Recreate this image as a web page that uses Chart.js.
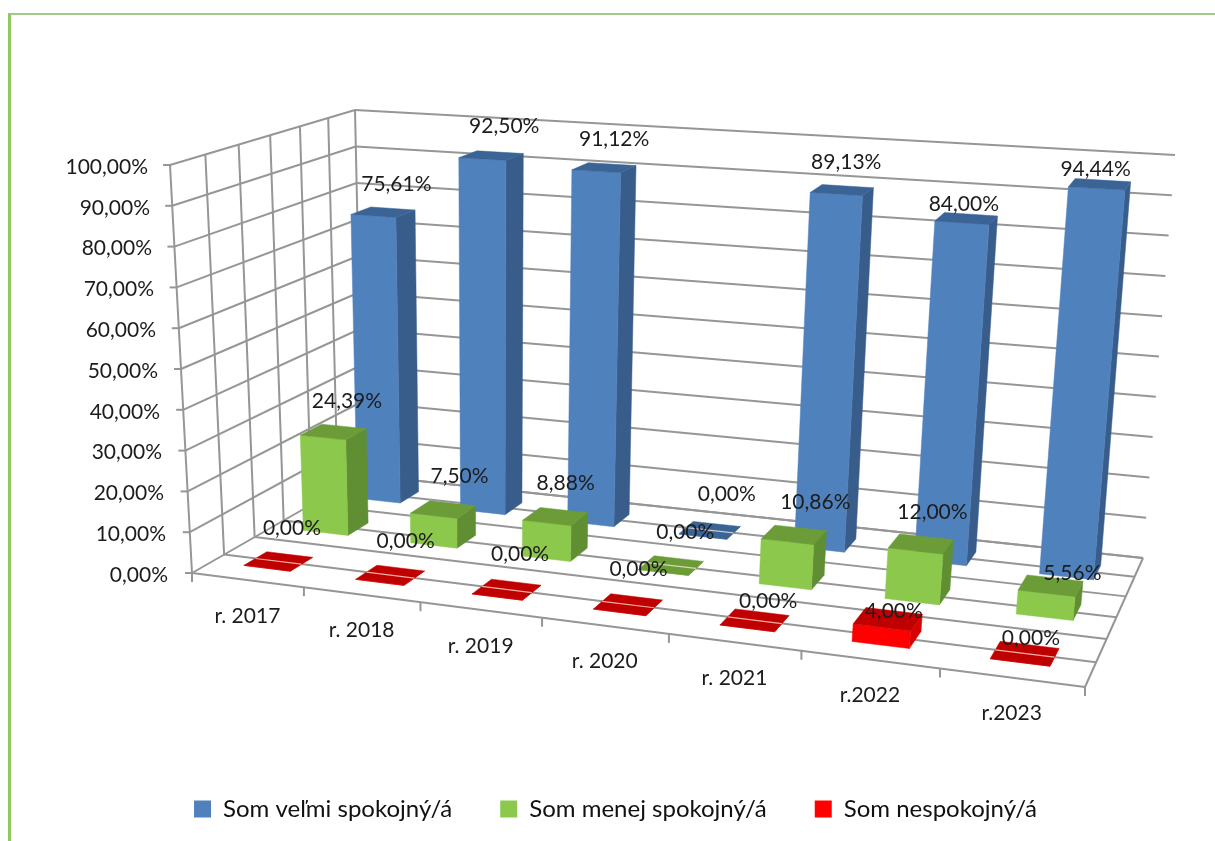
<!DOCTYPE html>
<html>
<head>
<meta charset="utf-8">
<title>Spokojnosť</title>
<script src="https://cdn.jsdelivr.net/npm/chart.js@4/dist/chart.umd.js"></script>
<style>
  html, body { margin: 0; padding: 0; background: #fff; overflow: hidden; }
  #wrap { position: relative; width: 1215px; height: 841px; overflow: hidden; }
  #frame { position: absolute; left: 8px; top: 13px; right: 0; bottom: 0;
           border-left: 3px solid #8fca5e; border-top: 2px solid #a3c98a; pointer-events: none; }
</style>
</head>
<body>
<div id="wrap">
  <canvas id="chart" width="1215" height="841"></canvas>
  <div id="frame"></div>
</div>
<script>
// Data
const categories = ['r. 2017', 'r. 2018', 'r. 2019', 'r. 2020', 'r. 2021', 'r.2022', 'r.2023'];
const seriesNames = ['Som veľmi spokojný/á', 'Som menej spokojný/á', 'Som nespokojný/á'];
const veryHappy = [75.61, 92.50, 91.12, 0, 89.13, 84.00, 94.44];
const lessHappy = [24.39, 7.50, 8.88, 0, 10.86, 12.00, 5.56];
const unhappy = [0, 0, 0, 0, 0, 4.00, 0];

// Colours per series: front, side, top
const faceColors = [
  ['#4f81bd', '#385d8a', '#3a6496'],
  ['#8cc84b', '#5f8f32', '#6b9c38'],
  ['#ff0000', '#d80000', '#c00000']
];
const gridColor = '#969696';
const textColor = '#1c1c1c';
const fontName = 'Lato, Carlito, sans-serif';

// Perspective box of the plot (front-left, front-right, back-right, back-left)
const floorQuad = [[192, 573], [1085, 687], [1143, 558], [363, 475]];
const ceilQuad = [[170, 165], [1132, 228], [1175, 155], [355, 110]];

const barWidthFrac = 0.42;
const barDepthFrac = 0.125;
const depthCells = 6;

// Label nudges from the top of each bar, [dx, dy] per series and category
const labelShift = [
  [[23, -32], [22, -33], [18, -32], [24, -42], [10, -32], [2, -19], [-1, -19]],
  [[24, -36], [26, -40], [19, -40], [22, -40], [28, -39], [17, -39], [26, -20]],
  [[25, -40], [26, -41], [23, -43], [19, -43], [21, -27], [12, -16], [11, -24]]
];

function makeHomography(q) {
  const [x0, y0] = q[0], [x1, y1] = q[1], [x2, y2] = q[2], [x3, y3] = q[3];
  const dx1 = x1 - x2, dx2 = x3 - x2, sx = x0 - x1 + x2 - x3;
  const dy1 = y1 - y2, dy2 = y3 - y2, sy = y0 - y1 + y2 - y3;
  const den = dx1 * dy2 - dx2 * dy1;
  const g = (sx * dy2 - dx2 * sy) / den;
  const h = (dx1 * sy - sx * dy1) / den;
  const a = x1 - x0 + g * x1, b = x3 - x0 + h * x3;
  const d = y1 - y0 + g * y1, e = y3 - y0 + h * y3;
  return (u, v) => {
    const t = g * u + h * v + 1;
    return [(a * u + b * v + x0) / t, (d * u + e * v + y0) / t];
  };
}
const floorMap = makeHomography(floorQuad);
const ceilMap = makeHomography(ceilQuad);

// u along categories, v into the depth, w up the value axis, all 0..1
function project(u, v, w) {
  const p = floorMap(u, v), q = ceilMap(u, v);
  return [p[0] + (q[0] - p[0]) * w, p[1] + (q[1] - p[1]) * w];
}

function formatPct(val) {
  return val.toFixed(2).replace('.', ',') + '%';
}

function line(ctx, a, b) {
  ctx.beginPath();
  ctx.moveTo(a[0], a[1]);
  ctx.lineTo(b[0], b[1]);
  ctx.stroke();
}

function face(ctx, pts, color) {
  ctx.fillStyle = color;
  ctx.strokeStyle = color;
  ctx.lineWidth = 0.5;
  ctx.beginPath();
  pts.forEach((p, i) => (i ? ctx.lineTo(p[0], p[1]) : ctx.moveTo(p[0], p[1])));
  ctx.closePath();
  ctx.fill();
  ctx.stroke();
}

function drawBox(chart) {
  const ctx = chart.ctx, y = chart.scales.y;
  ctx.strokeStyle = gridColor;
  ctx.lineWidth = 2;
  y.ticks.forEach(t => {
    const w = (y.bottom - y.getPixelForValue(t.value)) / y.height;
    line(ctx, project(0, 1, w), project(1, 1, w)); // back wall
    line(ctx, project(0, 0, w), project(0, 1, w)); // side wall
    const a = project(0, 0, w);
    line(ctx, a, [a[0] - 7, a[1]]);
  });
  for (let k = 0; k <= depthCells; k++) {
    const v = k / depthCells;
    line(ctx, project(0, v, 0), project(0, v, 1));
    line(ctx, project(0, v, 0), project(1, v, 0));
  }
  line(ctx, project(1, 0, 0), project(1, 1, 0));
  // ticks under the front edge
  for (let k = 0; k <= categories.length; k++) {
    const a = project(k / categories.length, 0, 0);
    line(ctx, a, [a[0], a[1] + 9]);
  }
}

function drawBars(chart) {
  const ctx = chart.ctx, xs = chart.scales.x, ys = chart.scales.y;
  const step = xs.getPixelForValue(1) - xs.getPixelForValue(0);
  const halfU = (barWidthFrac * step / xs.width) / 2;
  // back row first so nearer bars cover it
  chart.data.datasets.forEach((ds, s) => {
    const vMid = (5 - 2 * s) / depthCells;
    const v0 = vMid - barDepthFrac / 2, v1 = vMid + barDepthFrac / 2;
    const cols = faceColors[s];
    ds.data.forEach((val, k) => {
      const uMid = (xs.getPixelForValue(k) - xs.left) / xs.width;
      const u0 = uMid - halfU, u1 = uMid + halfU;
      const w = (ys.bottom - ys.getPixelForValue(val)) / ys.height;
      face(ctx, [project(u1, v0, 0), project(u1, v1, 0), project(u1, v1, w), project(u1, v0, w)], cols[1]);
      face(ctx, [project(u0, v0, 0), project(u1, v0, 0), project(u1, v0, w), project(u0, v0, w)], cols[0]);
      face(ctx, [project(u0, v0, w), project(u1, v0, w), project(u1, v1, w), project(u0, v1, w)], cols[2]);
      if (val === 0) {
        // the floor line still shows through a flat tile
        ctx.strokeStyle = 'rgba(255,235,215,0.75)';
        ctx.lineWidth = 1.2;
        line(ctx, project(u0, vMid, 0), project(u1, vMid, 0));
      }
    });
  });
}

function drawTexts(chart) {
  const ctx = chart.ctx, xs = chart.scales.x, ys = chart.scales.y;
  ctx.fillStyle = textColor;
  ctx.textBaseline = 'middle';
  ctx.font = '21px ' + fontName;
  // value axis
  ctx.textAlign = 'right';
  ys.ticks.forEach(t => {
    const w = (ys.bottom - ys.getPixelForValue(t.value)) / ys.height;
    const a = project(0, 0, w);
    ctx.fillText(formatPct(t.value), a[0] - 24 + 2 * w, a[1] + 2);
  });
  // categories
  ctx.textAlign = 'center';
  categories.forEach((name, k) => {
    const u = (xs.getPixelForValue(k) - xs.left) / xs.width;
    const a = project(u, 0, 0);
    ctx.fillText(name, a[0], a[1] + 36);
  });
  // values
  chart.data.datasets.forEach((ds, s) => {
    const vMid = (5 - 2 * s) / depthCells;
    ds.data.forEach((val, k) => {
      const u = (xs.getPixelForValue(k) - xs.left) / xs.width;
      const w = (ys.bottom - ys.getPixelForValue(val)) / ys.height;
      const a = project(u, vMid - barDepthFrac / 2, w);
      ctx.fillText(formatPct(val), a[0] + labelShift[s][k][0], a[1] + labelShift[s][k][1]);
    });
  });
}

const perspectivePlugin = {
  id: 'perspective',
  beforeDatasetsDraw(chart) {
    drawBox(chart);
    drawBars(chart);
    drawTexts(chart);
    return false; // the flat bars are replaced by the boxes above
  }
};

const config = {
  type: 'bar',
  data: {
    labels: categories,
    datasets: [
      { label: seriesNames[0], data: veryHappy, backgroundColor: faceColors[0][0] },
      { label: seriesNames[1], data: lessHappy, backgroundColor: faceColors[1][0] },
      { label: seriesNames[2], data: unhappy, backgroundColor: faceColors[2][0] }
    ]
  },
  options: {
    responsive: false,
    animation: false,
    layout: { padding: { left: 16, bottom: 10 } },
    scales: {
      x: { display: false },
      y: { display: false, min: 0, max: 100, ticks: { stepSize: 10 } }
    },
    plugins: {
      tooltip: { enabled: false },
      title: { display: false },
      legend: {
        position: 'bottom',
        labels: {
          boxWidth: 17,
          boxHeight: 17,
          padding: 48,
          color: '#111',
          font: { family: fontName, size: 24 }
        }
      }
    }
  },
  plugins: [perspectivePlugin]
};

new Chart(document.getElementById('chart'), config);
</script>
</body>
</html>
